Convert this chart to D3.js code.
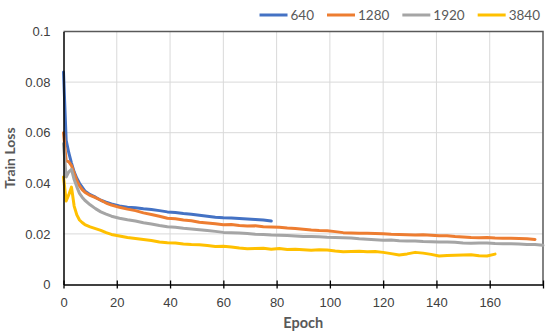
<!DOCTYPE html>
<html>
<head>
<meta charset="utf-8">
<script src="https://cdn.jsdelivr.net/npm/d3@7"></script>
<style>
  body { margin: 0; background: #fff; }
  svg { display: block; font-family: Lato, "Liberation Sans", sans-serif; }
</style>
</head>
<body>
<script>
var epochs = [0, 1, 2, 3, 4, 5, 6, 7, 8, 10, 12, 14, 16, 18,
  21, 24, 27, 30, 33, 36, 39, 42, 45, 48, 51, 54, 57, 60, 63, 66, 69, 72, 75, 78,
  81, 84, 87, 90, 93, 96, 99, 102, 105, 108, 111, 114, 117, 120, 123, 126, 129,
  132, 135, 138, 141, 144, 147, 150, 153, 156, 159, 162, 165, 168, 171, 174, 177, 180];

var seriesNames = ["640", "1280", "1920", "3840"];

var loss640 = [0.084, 0.057, 0.052, 0.048, 0.0445, 0.042, 0.040, 0.0385, 0.037, 0.0355, 0.0345, 0.0333, 0.0325, 0.0318,
  0.0310, 0.0305, 0.0303, 0.0299, 0.0296, 0.0292, 0.0287, 0.0285, 0.0281, 0.0278, 0.0274, 0.0270, 0.0266, 0.0264,
  0.0263, 0.0261, 0.0259, 0.0257, 0.0255, 0.0251];

var loss1280 = [0.060, 0.049, 0.0485, 0.047, 0.044, 0.041, 0.039, 0.0375, 0.0365, 0.0352, 0.0343, 0.0333, 0.0322, 0.0314,
  0.0305, 0.0298, 0.0292, 0.0283, 0.0277, 0.0270, 0.0262, 0.0260, 0.0255, 0.0252, 0.0246, 0.0243, 0.0240, 0.0236,
  0.0237, 0.0233, 0.0231, 0.0232, 0.0228, 0.0227, 0.0226, 0.0223, 0.0221, 0.0218, 0.0215, 0.0213, 0.0212, 0.0209,
  0.0205, 0.0204, 0.0203, 0.0203, 0.0202, 0.0201, 0.0199, 0.0198, 0.0197, 0.0196, 0.0197, 0.0195, 0.0193, 0.0193,
  0.0190, 0.0188, 0.0186, 0.0185, 0.0186, 0.0184, 0.0183, 0.0183, 0.0182, 0.0181, 0.0178];

var loss1920 = [0.0557, 0.0425, 0.0445, 0.0455, 0.0415, 0.0386, 0.036, 0.0345, 0.0333, 0.0315, 0.0300, 0.0287, 0.0278, 0.0270,
  0.0262, 0.0256, 0.0251, 0.0244, 0.0239, 0.0233, 0.0228, 0.0226, 0.0222, 0.0219, 0.0216, 0.0213, 0.0210, 0.0206,
  0.0205, 0.0204, 0.0202, 0.0199, 0.0198, 0.0196, 0.0195, 0.0194, 0.0192, 0.0190, 0.0190, 0.0189, 0.0187, 0.0186,
  0.0185, 0.0184, 0.0181, 0.0179, 0.0177, 0.0175, 0.0176, 0.0173, 0.0172, 0.0172, 0.0170, 0.0169, 0.0168, 0.0168,
  0.0167, 0.0164, 0.0163, 0.0164, 0.0164, 0.0162, 0.0161, 0.0161, 0.0160, 0.0158, 0.0158, 0.0155];

var loss3840 = [0.0425, 0.033, 0.0355, 0.0385, 0.031, 0.0275, 0.0255, 0.0245, 0.0237, 0.0228, 0.0221, 0.0214, 0.0205, 0.0198,
  0.0192, 0.0186, 0.0182, 0.0178, 0.0174, 0.0168, 0.0165, 0.0164, 0.0160, 0.0158, 0.0157, 0.0154, 0.0150, 0.0151,
  0.0148, 0.0144, 0.0141, 0.0142, 0.0143, 0.0139, 0.0142, 0.0138, 0.0139, 0.0137, 0.0135, 0.0137, 0.0136, 0.0132,
  0.0129, 0.0130, 0.0131, 0.0129, 0.0130, 0.0127, 0.0122, 0.0117, 0.0121, 0.0127, 0.0124, 0.0119, 0.0113, 0.0115,
  0.0116, 0.0117, 0.0118, 0.0114, 0.0113, 0.0120];

var xTicks = [0, 20, 40, 60, 80, 100, 120, 140, 160, 180];
var xTickLabels = ["0", "20", "40", "60", "80", "100", "120", "140", "160", ""];
var yTicks = [0, 0.02, 0.04, 0.06, 0.08, 0.1];
var yTickLabels = ["0", "0.02", "0.04", "0.06", "0.08", "0.1"];

var colors = ["#4472c4", "#ed7d31", "#a5a5a5", "#ffc000"];

var width = 550, height = 336;
var margin = {top: 31.5, right: 7, bottom: 51.5, left: 63.5};

var svg = d3.select("body").append("svg")
  .attr("width", width)
  .attr("height", height);

var x = d3.scaleLinear().domain([0, 180]).range([margin.left, width - margin.right]);
var y = d3.scaleLinear().domain([0, 0.1]).range([height - margin.bottom, margin.top]);

// gridlines
svg.append("g")
  .selectAll("line.hg")
  .data(yTicks.slice(1, -1))
  .join("line")
    .attr("x1", x(0)).attr("x2", x(180))
    .attr("y1", d => y(d)).attr("y2", d => y(d))
    .attr("stroke", "#d9d9d9").attr("stroke-width", 1);
svg.append("g")
  .selectAll("line.vg")
  .data(xTicks.slice(1, -1))
  .join("line")
    .attr("x1", d => x(d)).attr("x2", d => x(d))
    .attr("y1", y(0)).attr("y2", y(0.1))
    .attr("stroke", "#d9d9d9").attr("stroke-width", 1);

// top and right frame
svg.append("path")
  .attr("d", "M" + x(0) + "," + y(0.1) + "H" + x(180) + "V" + y(0))
  .attr("fill", "none").attr("stroke", "#595959").attr("stroke-width", 1.5);

// lines
var allSeries = [loss640, loss1280, loss1920, loss3840];
var line = d3.line()
  .x(function(d, i) { return x(epochs[i]); })
  .y(function(d) { return y(d); });

svg.append("g")
  .selectAll("path")
  .data(allSeries)
  .join("path")
    .attr("d", line)
    .attr("fill", "none")
    .attr("stroke", (d, i) => colors[i])
    .attr("stroke-width", 3)
    .attr("stroke-linejoin", "round")
    .attr("stroke-linecap", "round");

// axes
var xAxis = svg.append("g")
  .attr("transform", "translate(0," + y(0) + ")")
  .call(d3.axisBottom(x).tickValues(xTicks).tickSize(4)
    .tickFormat((d, i) => xTickLabels[i]).tickSizeOuter(0));
xAxis.selectAll(".tick line").attr("y1", -4).attr("stroke", "#000").attr("stroke-width", 1.3);
xAxis.select(".domain").attr("stroke", "#000").attr("stroke-width", 1.5);
xAxis.selectAll("text").attr("font-size", 13).attr("fill", "#404040").attr("dy", "1.2em");

var yAxis = svg.append("g")
  .attr("transform", "translate(" + x(0) + ",0)")
  .call(d3.axisLeft(y).tickValues(yTicks).tickSize(0)
    .tickFormat((d, i) => yTickLabels[i]).tickSizeOuter(0));
yAxis.select(".domain").attr("stroke", "#000").attr("stroke-width", 1.5);
yAxis.selectAll("text").attr("font-size", 13).attr("fill", "#404040").attr("x", -13);

// axis titles
svg.append("text")
  .attr("transform", "translate(15," + ((y(0) + y(0.1)) / 2) + ") rotate(-90)")
  .attr("text-anchor", "middle")
  .attr("font-size", 14).attr("font-weight", "bold").attr("fill", "#595959")
  .text("Train Loss");
svg.append("text")
  .attr("x", (x(0) + x(180)) / 2)
  .attr("y", 328)
  .attr("text-anchor", "middle")
  .attr("font-size", 14.5).attr("font-weight", "bold").attr("fill", "#595959")
  .text("Epoch");

// legend, right aligned at the top
var legend = svg.append("g");
var items = legend.selectAll("g")
  .data(seriesNames)
  .join("g");
items.append("line")
  .attr("x1", 0).attr("x2", 28).attr("y1", 15).attr("y2", 15)
  .attr("stroke", (d, i) => colors[i]).attr("stroke-width", 3);
items.append("text")
  .attr("x", 31).attr("y", 15).attr("dy", "0.35em")
  .attr("font-size", 13.5).attr("fill", "#595959")
  .text(d => d);
var pos = 0;
items.each(function() {
  var w = 31 + this.querySelector("text").getComputedTextLength();
  d3.select(this).attr("data-x", pos);
  pos += w + 13;
});
var start = 540 - (pos - 13);
items.attr("transform", function() { return "translate(" + (start + (+this.getAttribute("data-x"))) + ",0)"; });
</script>
</body>
</html>
